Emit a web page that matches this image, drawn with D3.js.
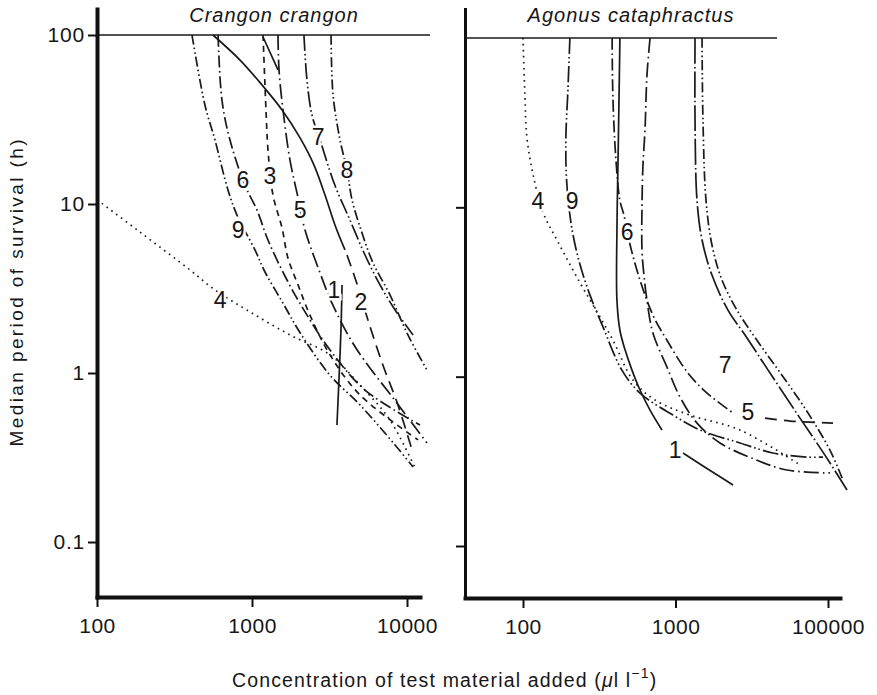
<!DOCTYPE html>
<html><head><meta charset="utf-8">
<script src="https://cdn.jsdelivr.net/npm/d3@7"></script>
<style>
body{margin:0;background:#fff;}
svg{display:block;}
text{font-family:"Liberation Sans", Arial, Helvetica, sans-serif; fill:#161616;}
</style></head><body>
<svg id="chart" width="877" height="695"></svg>
<script>
// ---------- DATA (concentration µl/l, median survival h) ----------
const yTickValues = [100, 10, 1, 0.1];
const yTickLabels = ["100", "10", "1", "0.1"];
const rightYTickValues = [10, 1, 0.1];
const leftXTickValues = [100, 1000, 10000];
const leftXTickLabels = ["100", "1000", "10000"];
const rightXTickValues = [100, 1000, 10000];
const rightXTickLabels = ["100", "1000", "100000"];
const panelTitles = ["Crangon crangon", "Agonus cataphractus"];

// Crangon crangon curves
const crangon1 = [[560,100],[837,71.1],[1161,50.6],[1563,36.0],[2042,24.6],[2512,17.0],[2958,11.3],[3428,7.52],[3981,5.35]];
const crangon1b = [[3811,3.32],[3750,1.80],[3639,0.91],[3532,0.492]];
const crangon2 = [[4102,4.99],[4831,3.23],[5598,2.06],[6998,1.11],[8610,0.673],[10940,0.336]];
const crangon3 = [[1178,100],[1231,36.0],[1268,20.9],[1366,11.3],[1563,7.21],[1706,4.79],[1982,3.32],[2366,2.20],[3186,1.28],[4977,0.741],[11780,0.402]];
const crangon4 = [[100,10.6],[189,6.83],[398,4.07],[577,3.10],[970,2.30],[1758,1.68],[3186,1.28],[4977,0.849],[7762,0.527],[11270,0.274]];
const crangon5 = [[1471,100],[1494,62.1],[1585,36.0],[1758,18.2],[1982,10.9],[2198,7.02],[2748,3.91],[3281,2.59],[4624,1.43],[8610,0.664],[13460,0.385]];
const crangon5b = [[1178,97.3],[1471,62.1]];
const crangon6 = [[604,100],[640,41.2],[721,23.9],[901,12.9],[1077,9.2],[1268,6.12],[1682,3.55],[2198,2.30],[3186,1.37],[5358,0.793],[12130,0.492]];
const crangon7 = [[2163,100],[2263,54.2],[2438,33.6],[2748,23.9],[3428,12.9],[4285,8.04],[5358,4.99],[6699,3.32],[8375,2.36],[10940,1.68]];
const crangon8 = [[3236,100],[3334,44.2],[3698,23.9],[4102,15.9],[4416,10.6],[5128,6.73],[6038,4.48],[7762,2.90],[10140,1.68],[13460,1.04]];
const crangon9 = [[410,100],[497,38.5],[577,23.9],[700,12.1],[800,8.6],[1045,5.35],[1213,3.96],[1585,2.59],[2042,1.73],[3186,0.97],[4977,0.647],[8375,0.375],[10940,0.278]];
const crangonLabels = [["6",875,13.9],["3",1306,14.7],["7",2667,24.9],["8",4102,15.9],["5",2042,9.2],["9",813,7.02],["1",3381,3.10],["2",5047,2.63],["4",622,2.70]];

// Agonus cataphractus curves
const agonus1 = [[432,100],[426,43.0],[420,19.0],[413,7.35],[413,2.83],[432,1.88],[467,1.44],[519,1.09],[585,0.834],[681,0.635],[815,0.484]];
const agonus1b = [[1120,0.354],[1560,0.292],[2384,0.229]];
const agonus4 = [[100,100],[103,44.9],[106,26.0],[116,15.9],[135,9.38],[167,6.41],[237,3.57],[306,2.41],[389,1.64],[526,0.955],[734,0.728],[1245,0.593],[2649,0.484],[6550,0.301]];
const agonus5 = [[681,100],[650,60.4],[631,28.6],[612,17.8],[603,10.3],[603,5.60],[621,3.98],[650,2.83],[711,1.81],[879,1.14],[1071,0.757],[1384,0.532],[1958,0.406],[3421,0.321],[5380,0.281],[10300,0.270]];
const agonus6 = [[384,100],[389,43.0],[407,19.0],[432,11.0],[459,9.01],[504,5.99],[585,3.72],[711,2.31],[879,1.64],[1208,1.05],[1610,0.800],[2384,0.610]];
const agonus6b = [[3864,0.569],[5631,0.547],[10790,0.532]];
const agonus7 = [[1343,100],[1343,32.8],[1384,11.0],[1493,6.41],[1734,3.98],[2208,2.47],[2858,1.76],[4169,1.05],[6550,0.569],[9550,0.344],[13330,0.214]];
const agonus8 = [[1493,100],[1514,32.8],[1585,11.0],[1734,5.99],[2018,3.72],[2531,2.47],[3421,1.64],[4990,1.02],[7396,0.610],[10300,0.368],[12530,0.245]];
const agonus9 = [[203,100],[197,49.3],[191,25.0],[194,13.6],[210,7.35],[237,4.56],[275,3.03],[335,1.96],[446,1.09],[585,0.800],[963,0.593],[1449,0.484],[2649,0.406],[4357,0.354],[7278,0.335],[9275,0.335]];
const agonusLabels = [["4",125,11.0],["9",210,11.0],["6",481,7.15],["7",2113,1.17],["5",2985,0.618],["1",993,0.368]];

// ---------- STYLES ----------
const dash = {
  solid: null,
  dot: "1.6,4.4",
  shortDash: "6,5",
  longDash: "12,7",
  dashDot: "12,3.5,1.6,3.5",
  longDashDot: "15,4,1.6,4",
  dashDotDot: "10,3,1.6,3,1.6,3",
  longDashDotDot: "16,3,1.6,3,1.6,3",
  solidDot: "26,3,1.6,3"
};

const panels = [
  {
    title: panelTitles[0], titleX: 274,
    xTicks: leftXTickValues, xLabels: leftXTickLabels,
    yTicks: yTickValues, yLabels: yTickLabels,
    xRef: [100, 10000], xRefPx: [97, 407], xPx: [97, 420],
    yRef: [100, 0.1], yRefPx: [35, 542], yPx: [9, 597],
    yAxisWidth: 4, topLineEnd: 430,
    curves: [
      [crangon9, "dashDotDot"], [crangon6, "dashDot"], [crangon3, "shortDash"],
      [crangon5, "longDashDot"], [crangon5b, "solid"], [crangon1, "solid"], [crangon1b, "solid"],
      [crangon7, "longDashDotDot"], [crangon8, "dashDotDot"], [crangon2, "longDash"], [crangon4, "dot"]
    ],
    labels: crangonLabels
  },
  {
    title: panelTitles[1], titleX: 631,
    xTicks: rightXTickValues, xLabels: rightXTickLabels,
    yTicks: rightYTickValues, yLabels: null,
    xRef: [100, 10000], xRefPx: [523, 828], xPx: [465, 840],
    yRef: [100, 0.1], yRefPx: [38, 546], yPx: [9, 598],
    yAxisWidth: 3, topLineEnd: 777,
    curves: [
      [agonus4, "dot"], [agonus9, "longDashDotDot"], [agonus1, "solid"], [agonus1b, "solid"],
      [agonus6, "dashDot"], [agonus6b, "longDash"], [agonus5, "longDashDot"],
      [agonus7, "solidDot"], [agonus8, "dashDotDot"]
    ],
    labels: agonusLabels
  }
];

const svg = d3.select("#chart");

panels.forEach(p => {
  const xr = d3.scaleLog().domain(p.xRef).range(p.xRefPx);
  const x = d3.scaleLog().domain([xr.invert(p.xPx[0]), xr.invert(p.xPx[1])]).range(p.xPx);
  const yr = d3.scaleLog().domain(p.yRef).range(p.yRefPx);
  const y = d3.scaleLog().domain([yr.invert(p.yPx[0]), yr.invert(p.yPx[1])]).range(p.yPx);

  const g = svg.append("g");

  // curves
  const line = d3.line().x(d => x(d[0])).y(d => y(d[1])).curve(d3.curveCatmullRom.alpha(0.5));
  p.curves.forEach(([pts, st]) => {
    g.append("path").attr("d", line(pts))
      .attr("fill", "none").attr("stroke", "#1a1a1a").attr("stroke-width", 1.7)
      .attr("stroke-dasharray", dash[st]);
  });

  // top 100 h line
  g.append("line")
    .attr("x1", p.xPx[0]).attr("x2", p.topLineEnd)
    .attr("y1", y(100)).attr("y2", y(100))
    .attr("stroke", "#1a1a1a").attr("stroke-width", 1.6);

  // y axis
  const yAxis = d3.axisLeft(y).tickValues(p.yTicks).tickSize(9).tickSizeOuter(0).tickPadding(3)
    .tickFormat((d, i) => p.yLabels ? p.yLabels[i] : "");
  const ga = g.append("g").attr("transform", `translate(${p.xPx[0]},0)`).call(yAxis);
  ga.select(".domain").attr("stroke", "#111").attr("stroke-width", p.yAxisWidth).attr("stroke-linecap", "square");
  ga.selectAll(".tick line").attr("stroke", "#111").attr("stroke-width", 2);
  ga.selectAll(".tick text").attr("font-size", 21).attr("font-family", "Liberation Sans, Arial, sans-serif")
    .attr("fill", "#161616").attr("letter-spacing", 0.8);

  // x axis
  const xAxis = d3.axisBottom(x).tickValues(p.xTicks).tickSize(10).tickSizeOuter(0).tickPadding(6)
    .tickFormat((d, i) => p.xLabels[i]);
  const gx = g.append("g").attr("transform", `translate(0,${p.yPx[1]})`).call(xAxis);
  gx.select(".domain").attr("stroke", "#111").attr("stroke-width", 4).attr("stroke-linecap", "square");
  gx.selectAll(".tick line").attr("stroke", "#111").attr("stroke-width", 2);
  gx.selectAll(".tick text").attr("font-size", 21).attr("font-family", "Liberation Sans, Arial, sans-serif")
    .attr("fill", "#161616").attr("letter-spacing", 0.5).attr("dy", 0).attr("y", 36);

  // title
  g.append("text").attr("x", p.titleX).attr("y", 22).attr("text-anchor", "middle")
    .attr("font-size", 20).attr("font-style", "italic").attr("letter-spacing", 1).text(p.title);

  // curve labels
  g.selectAll("text.lbl").data(p.labels).enter().append("text").attr("class", "lbl")
    .attr("x", d => x(d[1])).attr("y", d => y(d[2])).attr("dy", "0.36em")
    .attr("text-anchor", "middle").attr("font-size", 23)
    .attr("stroke", "#fff").attr("stroke-width", 5).attr("paint-order", "stroke")
    .text(d => d[0]);
});

// axis titles
svg.append("text").attr("transform", "translate(23,293) rotate(-90)")
  .attr("text-anchor", "middle").attr("font-size", 19).attr("textLength", 307).attr("lengthAdjust", "spacing")
  .text("Median period of survival (h)");

const xt = svg.append("text").attr("x", 232).attr("y", 687).attr("font-size", 19.5).attr("letter-spacing", 1.15);
xt.append("tspan").text("Concentration of test material added (");
xt.append("tspan").attr("font-style", "italic").text("\u03bc");
xt.append("tspan").text("l l");
xt.append("tspan").attr("dy", -9).attr("font-size", 14).text("\u22121");
xt.append("tspan").attr("dy", 9).text(")");
</script>
</body></html>
